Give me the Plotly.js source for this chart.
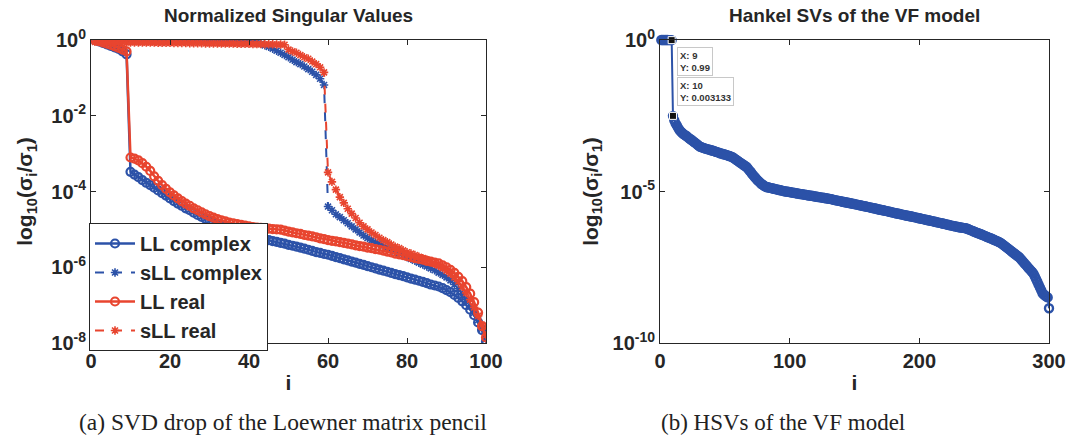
<!DOCTYPE html>
<html><head><meta charset="utf-8">
<script src="https://cdn.plot.ly/plotly-3.0.1.min.js"></script>
<style>html,body{margin:0;padding:0;background:#fff;} #chart{width:1071px;height:441px;}</style>
</head><body><div id="chart"></div>
<script>
// ---- Left panel: normalized singular values (sigma_i / sigma_1), i = 1..100 ----
const llComplex = [
  1, 0.92, 0.84, 0.77, 0.7, 0.64, 0.58, 0.5, 0.42, 3.3e-4,
  2.8e-4, 2.4e-4, 2.0e-4, 1.7e-4, 1.48e-4, 1.26e-4, 1.07e-4, 9.1e-5, 7.8e-5, 6.6e-5,
  5.6e-5, 4.8e-5, 4.2e-5, 3.6e-5, 3.2e-5, 2.75e-5, 2.4e-5, 2.14e-5, 1.9e-5, 1.7e-5,
  1.5e-5, 1.38e-5, 1.26e-5, 1.15e-5, 1.05e-5, 9.5e-6, 8.9e-6, 8.3e-6, 7.8e-6, 7.2e-6,
  6.8e-6, 6.3e-6, 5.9e-6, 5.5e-6, 5.2e-6, 4.9e-6, 4.7e-6, 4.4e-6, 4.2e-6, 3.9e-6,
  3.7e-6, 3.5e-6, 3.3e-6, 3.1e-6, 2.9e-6, 2.7e-6, 2.5e-6, 2.4e-6, 2.24e-6, 2.14e-6,
  2.0e-6, 1.86e-6, 1.74e-6, 1.62e-6, 1.51e-6, 1.41e-6, 1.32e-6, 1.23e-6, 1.15e-6, 1.07e-6,
  1.0e-6, 9.3e-7, 8.7e-7, 8.1e-7, 7.6e-7, 7.1e-7, 6.6e-7, 6.2e-7, 5.8e-7, 5.4e-7,
  5.0e-7, 4.7e-7, 4.4e-7, 4.1e-7, 3.8e-7, 3.5e-7, 3.3e-7, 3.1e-7, 2.8e-7, 2.5e-7,
  2.2e-7, 1.86e-7, 1.55e-7, 1.26e-7, 1.0e-7, 7.6e-8, 5.4e-8, 3.5e-8, 2.2e-8, 1.1e-8
];
const sllComplex = [
  1, 0.999, 0.998, 0.998, 0.997, 0.996, 0.995, 0.995, 0.994, 0.993,
  0.992, 0.991, 0.991, 0.99, 0.989, 0.988, 0.987, 0.987, 0.986, 0.985,
  0.984, 0.983, 0.982, 0.982, 0.981, 0.98, 0.979, 0.978, 0.977, 0.976,
  0.975, 0.974, 0.973, 0.972, 0.971, 0.97, 0.968, 0.966, 0.964, 0.96,
  0.93, 0.87, 0.79, 0.72, 0.66, 0.59, 0.52, 0.46, 0.4, 0.35,
  0.3, 0.26, 0.23, 0.2, 0.17, 0.145, 0.12, 0.095, 0.065, 4.0e-5,
  3.2e-5, 2.5e-5, 2.1e-5, 1.74e-5, 1.45e-5, 1.2e-5, 1.0e-5, 8.3e-6, 6.9e-6, 5.9e-6,
  5.1e-6, 4.6e-6, 4.2e-6, 3.7e-6, 3.3e-6, 2.95e-6, 2.6e-6, 2.35e-6, 2.1e-6, 1.86e-6,
  1.66e-6, 1.48e-6, 1.32e-6, 1.17e-6, 1.05e-6, 9.3e-7, 8.3e-7, 7.2e-7, 6.3e-7, 5.4e-7,
  4.5e-7, 3.5e-7, 2.7e-7, 2.0e-7, 1.4e-7, 9.5e-8, 6.3e-8, 4.0e-8, 2.4e-8, 1.26e-8
];
const llReal = [
  1, 0.93, 0.86, 0.8, 0.74, 0.68, 0.62, 0.56, 0.5, 7.9e-4,
  7.4e-4, 6.6e-4, 5.6e-4, 4.5e-4, 3.5e-4, 2.5e-4, 1.9e-4, 1.48e-4, 1.17e-4, 9.5e-5,
  7.9e-5, 6.6e-5, 5.6e-5, 4.8e-5, 4.2e-5, 3.6e-5, 3.2e-5, 2.8e-5, 2.5e-5, 2.24e-5,
  2.04e-5, 1.86e-5, 1.74e-5, 1.62e-5, 1.51e-5, 1.45e-5, 1.38e-5, 1.32e-5, 1.26e-5, 1.2e-5,
  1.15e-5, 1.12e-5, 1.1e-5, 1.07e-5, 1.05e-5, 1.02e-5, 1.0e-5, 9.8e-6, 9.3e-6, 8.7e-6,
  8.3e-6, 7.9e-6, 7.6e-6, 7.1e-6, 6.8e-6, 6.5e-6, 6.2e-6, 5.8e-6, 5.5e-6, 5.2e-6,
  5.0e-6, 4.8e-6, 4.6e-6, 4.4e-6, 4.2e-6, 4.0e-6, 3.8e-6, 3.6e-6, 3.5e-6, 3.3e-6,
  3.2e-6, 3.0e-6, 2.9e-6, 2.75e-6, 2.6e-6, 2.45e-6, 2.3e-6, 2.2e-6, 2.1e-6, 1.95e-6,
  1.86e-6, 1.74e-6, 1.66e-6, 1.58e-6, 1.48e-6, 1.41e-6, 1.32e-6, 1.26e-6, 1.12e-6, 1.0e-6,
  8.5e-7, 7.1e-7, 5.6e-7, 4.3e-7, 3.0e-7, 2.0e-7, 1.2e-7, 6.3e-8, 2.8e-8, 1.4e-8
];
const sllReal = [
  0.89, 0.89, 0.88, 0.88, 0.88, 0.87, 0.87, 0.87, 0.86, 0.86,
  0.86, 0.86, 0.85, 0.85, 0.85, 0.85, 0.84, 0.84, 0.84, 0.84,
  0.83, 0.83, 0.83, 0.83, 0.82, 0.82, 0.82, 0.82, 0.81, 0.81,
  0.81, 0.81, 0.8, 0.8, 0.8, 0.8, 0.79, 0.79, 0.79, 0.79,
  0.78, 0.78, 0.78, 0.77, 0.77, 0.77, 0.76, 0.76, 0.75, 0.56,
  0.5, 0.46, 0.4, 0.35, 0.32, 0.27, 0.23, 0.19, 0.14, 3.2e-4,
  1.8e-4, 1.12e-4, 7.1e-5, 5.0e-5, 3.5e-5, 2.6e-5, 2.0e-5, 1.5e-5, 1.2e-5, 1.0e-5,
  8.3e-6, 7.1e-6, 6.0e-6, 5.2e-6, 4.6e-6, 4.0e-6, 3.5e-6, 3.2e-6, 2.8e-6, 2.5e-6,
  2.3e-6, 2.1e-6, 1.9e-6, 1.74e-6, 1.58e-6, 1.41e-6, 1.26e-6, 1.1e-6, 9.5e-7, 8.1e-7,
  6.8e-7, 5.4e-7, 4.2e-7, 3.0e-7, 2.1e-7, 1.4e-7, 8.7e-8, 5.2e-8, 3.0e-8, 1.6e-8
];

// ---- Right panel: Hankel singular values of the VF model, i = 1..300 ----
const hsv = [
  1, 0.999, 0.998, 0.997, 0.996, 0.995, 0.993, 0.992, 0.99, 0.003133,
  2.24e-3, 1.78e-3, 1.51e-3, 1.26e-3, 1.07e-3, 9.5e-4, 8.7e-4, 7.9e-4, 7.4e-4, 6.9e-4,
  6.5e-4, 5.9e-4, 5.5e-4, 5.1e-4, 4.8e-4, 4.4e-4, 4.1e-4, 3.8e-4, 3.5e-4, 3.2e-4,
  3.0e-4, 2.9e-4, 2.8e-4, 2.7e-4, 2.6e-4, 2.55e-4, 2.45e-4, 2.4e-4, 2.35e-4, 2.25e-4,
  2.2e-4, 2.15e-4, 2.05e-4, 2.0e-4, 1.95e-4, 1.85e-4, 1.8e-4, 1.78e-4, 1.7e-4, 1.66e-4,
  1.62e-4, 1.55e-4, 1.51e-4, 1.45e-4, 1.41e-4, 1.35e-4, 1.26e-4, 1.17e-4, 1.1e-4, 1.02e-4,
  9.5e-5, 8.9e-5, 8.3e-5, 7.8e-5, 7.2e-5, 6.8e-5, 6.3e-5, 5.6e-5, 4.9e-5, 4.4e-5,
  3.8e-5, 3.4e-5, 3.0e-5, 2.7e-5, 2.4e-5, 2.2e-5, 2.0e-5, 1.8e-5, 1.7e-5, 1.58e-5,
  1.48e-5, 1.41e-5, 1.38e-5, 1.35e-5, 1.32e-5, 1.29e-5, 1.26e-5, 1.23e-5, 1.2e-5, 1.17e-5,
  1.15e-5, 1.12e-5, 1.1e-5, 1.07e-5, 1.05e-5, 1.02e-5, 1.0e-5, 9.9e-6, 9.8e-6, 9.5e-6,
  9.4e-6, 9.2e-6, 9.1e-6, 8.9e-6, 8.8e-6, 8.6e-6, 8.5e-6, 8.3e-6, 8.2e-6, 8.1e-6,
  7.9e-6, 7.8e-6, 7.7e-6, 7.5e-6, 7.4e-6, 7.3e-6, 7.2e-6, 7.1e-6, 6.9e-6, 6.8e-6,
  6.7e-6, 6.6e-6, 6.5e-6, 6.4e-6, 6.3e-6, 6.2e-6, 6.1e-6, 6.0e-6, 5.9e-6, 5.8e-6,
  5.7e-6, 5.6e-6, 5.5e-6, 5.3e-6, 5.2e-6, 5.1e-6, 5.0e-6, 4.9e-6, 4.8e-6, 4.7e-6,
  4.6e-6, 4.5e-6, 4.4e-6, 4.35e-6, 4.25e-6, 4.15e-6, 4.1e-6, 4.0e-6, 3.9e-6, 3.85e-6,
  3.75e-6, 3.7e-6, 3.6e-6, 3.55e-6, 3.45e-6, 3.4e-6, 3.3e-6, 3.25e-6, 3.2e-6, 3.1e-6,
  3.05e-6, 3.0e-6, 2.9e-6, 2.85e-6, 2.8e-6, 2.75e-6, 2.7e-6, 2.6e-6, 2.55e-6, 2.5e-6,
  2.45e-6, 2.4e-6, 2.35e-6, 2.3e-6, 2.25e-6, 2.2e-6, 2.15e-6, 2.1e-6, 2.05e-6, 2.0e-6,
  1.96e-6, 1.92e-6, 1.88e-6, 1.84e-6, 1.8e-6, 1.76e-6, 1.72e-6, 1.69e-6, 1.65e-6, 1.62e-6,
  1.58e-6, 1.55e-6, 1.52e-6, 1.49e-6, 1.46e-6, 1.43e-6, 1.4e-6, 1.37e-6, 1.34e-6, 1.31e-6,
  1.28e-6, 1.25e-6, 1.23e-6, 1.2e-6, 1.17e-6, 1.15e-6, 1.12e-6, 1.1e-6, 1.07e-6, 1.05e-6,
  1.03e-6, 1.0e-6, 9.8e-7, 9.6e-7, 9.4e-7, 9.2e-7, 9.0e-7, 8.8e-7, 8.6e-7, 8.4e-7,
  8.2e-7, 8.0e-7, 7.8e-7, 7.6e-7, 7.5e-7, 7.3e-7, 7.2e-7, 7.0e-7, 6.9e-7, 6.7e-7,
  6.6e-7, 6.5e-7, 6.4e-7, 6.3e-7, 6.2e-7, 6.1e-7, 5.9e-7, 5.65e-7, 5.4e-7, 5.2e-7,
  5.0e-7, 4.8e-7, 4.6e-7, 4.4e-7, 4.25e-7, 4.1e-7, 3.95e-7, 3.8e-7, 3.65e-7, 3.5e-7,
  3.35e-7, 3.2e-7, 3.1e-7, 2.95e-7, 2.85e-7, 2.75e-7, 2.6e-7, 2.5e-7, 2.4e-7, 2.3e-7,
  2.2e-7, 2.1e-7, 1.98e-7, 1.83e-7, 1.7e-7, 1.57e-7, 1.46e-7, 1.35e-7, 1.25e-7, 1.16e-7,
  1.07e-7, 9.9e-8, 9.2e-8, 8.5e-8, 7.9e-8, 7.3e-8, 6.8e-8, 6.1e-8, 5.4e-8, 4.85e-8,
  4.3e-8, 3.85e-8, 3.45e-8, 3.05e-8, 2.75e-8, 2.45e-8, 2.2e-8, 1.95e-8, 1.6e-8, 1.3e-8,
  1.05e-8, 8.4e-9, 6.8e-9, 5.5e-9, 4.4e-9, 4.0e-9, 3.7e-9, 3.4e-9, 3.2e-9, 1.4e-9
];

// Indices (the x value of every point is its position i)
const idxLeft = llComplex.map((_, k) => k + 1);
const idxRight = hsv.map((_, k) => k + 1);
// Data-tip points shown in the right panel (0-based positions in hsv)
const tipIdx = [8, 9];

const leftXTicks = [0, 20, 40, 60, 80, 100];
const leftYTicks = [1e-8, 1e-6, 1e-4, 1e-2, 1];
const leftYTickText = ['10<sup>-8</sup>', '10<sup>-6</sup>', '10<sup>-4</sup>', '10<sup>-2</sup>', '10<sup>0</sup>'];
const rightXTicks = [0, 100, 200, 300];
const rightYTicks = [1e-10, 1e-5, 1];
const rightYTickText = ['10<sup>-10</sup>', '10<sup>-5</sup>', '10<sup>0</sup>'];

const BLUE = '#2c52a8';
const RED = '#e8452f';
const INK = '#262626';
const FONT = 'Liberation Sans, Arial, sans-serif';

const traces = [
  {x: idxLeft, y: llComplex, name: 'LL complex', mode: 'lines+markers', xaxis: 'x', yaxis: 'y',
   line: {color: BLUE, width: 2.5}, marker: {symbol: 'circle-open', size: 8, color: BLUE, line: {width: 2.2, color: BLUE}}},
  {x: idxLeft, y: sllComplex, name: 'sLL complex', mode: 'lines+markers', xaxis: 'x', yaxis: 'y',
   line: {color: BLUE, width: 2, dash: 'dash'}, marker: {symbol: 'asterisk-open', size: 7, color: BLUE, line: {width: 1.6, color: BLUE}}},
  {x: idxLeft, y: llReal, name: 'LL real', mode: 'lines+markers', xaxis: 'x', yaxis: 'y',
   line: {color: RED, width: 2.5}, marker: {symbol: 'circle-open', size: 8, color: RED, line: {width: 2.2, color: RED}}},
  {x: idxLeft, y: sllReal, name: 'sLL real', mode: 'lines+markers', xaxis: 'x', yaxis: 'y',
   line: {color: RED, width: 2, dash: 'dash'}, marker: {symbol: 'asterisk-open', size: 7, color: RED, line: {width: 1.6, color: RED}}},
  {x: idxRight, y: hsv, name: 'HSV', mode: 'lines+markers', xaxis: 'x2', yaxis: 'y2', showlegend: false, cliponaxis: false,
   line: {color: BLUE, width: 2}, marker: {symbol: 'circle-open', size: 8, color: BLUE, line: {width: 2.4, color: BLUE}}},
  {x: tipIdx.map(k => idxRight[k]), y: tipIdx.map(k => hsv[k]), mode: 'markers', xaxis: 'x2', yaxis: 'y2', showlegend: false, cliponaxis: false,
   marker: {symbol: 'square', size: 7, color: '#111', line: {width: 1, color: '#fff'}}}
];

const axisCommon = {
  showline: true, mirror: 'ticks', linecolor: INK, linewidth: 1,
  ticks: 'inside', ticklen: 5, tickcolor: INK, showgrid: false, zeroline: false,
  tickfont: {family: FONT, size: 20, weight: 'bold', color: INK}, automargin: false
};
const titleFont = {family: FONT, size: 21, weight: 'bold', color: INK};
const yTitle = 'log<sub>10</sub>(σ<sub>i</sub>/σ<sub>1</sub>)';

const dom = {
  lx: [91 / 1071, 486 / 1071],
  rx: [660 / 1071, 1049 / 1071],
  y: [(441 - 343) / 441, (441 - 40) / 441]
};

const layout = {
  width: 1071, height: 441,
  margin: {l: 0, r: 0, t: 0, b: 0},
  paper_bgcolor: '#fff', plot_bgcolor: '#fff',
  font: {family: FONT, color: INK},
  xaxis: Object.assign({}, axisCommon, {domain: dom.lx, anchor: 'y', range: [0, 100], tickvals: leftXTicks,
    title: {text: 'i', font: titleFont, standoff: 4}}),
  yaxis: Object.assign({}, axisCommon, {domain: dom.y, anchor: 'x', type: 'log', range: [-8, 0],
    tickvals: leftYTicks, ticktext: leftYTickText, title: {text: yTitle, font: titleFont, standoff: 12}}),
  xaxis2: Object.assign({}, axisCommon, {domain: dom.rx, anchor: 'y2', range: [0, 300], tickvals: rightXTicks,
    title: {text: 'i', font: titleFont, standoff: 4}}),
  yaxis2: Object.assign({}, axisCommon, {domain: dom.y, anchor: 'x2', type: 'log', range: [-10, 0],
    tickvals: rightYTicks, ticktext: rightYTickText, title: {text: yTitle, font: titleFont, standoff: 8}}),
  legend: {
    x: 89 / 1071, xanchor: 'left', y: (441 - 223) / 441, yanchor: 'top',
    bgcolor: '#fff', bordercolor: INK, borderwidth: 1,
    font: {family: FONT, size: 20, weight: 'bold', color: INK},
    tracegroupgap: 0, itemwidth: 40
  },
  showlegend: true,
  annotations: [
    {xref: 'paper', yref: 'paper', x: (dom.lx[0] + dom.lx[1]) / 2, y: (441 - 16) / 441, showarrow: false,
     xanchor: 'center', yanchor: 'middle',
     text: 'Normalized Singular Values', font: {family: FONT, size: 19, weight: 'bold', color: INK}},
    {xref: 'paper', yref: 'paper', x: (dom.rx[0] + dom.rx[1]) / 2, y: (441 - 16) / 441, showarrow: false,
     xanchor: 'center', yanchor: 'middle',
     text: 'Hankel SVs of the VF model', font: {family: FONT, size: 19, weight: 'bold', color: INK}},
    {xref: 'paper', yref: 'paper', x: 283 / 1071, y: (441 - 422) / 441, showarrow: false,
     xanchor: 'center', yanchor: 'middle',
     text: '(a) SVD drop of the Loewner matrix pencil', font: {family: 'Liberation Serif, serif', size: 23.5, color: '#222'}},
    {xref: 'paper', yref: 'paper', x: 783 / 1071, y: (441 - 422) / 441, showarrow: false,
     xanchor: 'center', yanchor: 'middle',
     text: '(b) HSVs of the VF model', font: {family: 'Liberation Serif, serif', size: 23, color: '#222'}},
    {xref: 'x2', yref: 'y2', x: idxRight[tipIdx[0]], y: Math.log10(hsv[tipIdx[0]]), showarrow: false,
     xanchor: 'left', yanchor: 'top', xshift: 5, yshift: -7, align: 'left',
     text: 'X: ' + idxRight[tipIdx[0]] + '<br>Y: ' + hsv[tipIdx[0]],
     bgcolor: '#fff', bordercolor: '#c8c8c8', borderwidth: 1, borderpad: 2,
     font: {family: FONT, size: 9.5, weight: 'bold', color: '#333'}},
    {xref: 'x2', yref: 'y2', x: idxRight[tipIdx[1]], y: Math.log10(hsv[tipIdx[1]]), showarrow: false,
     xanchor: 'left', yanchor: 'bottom', xshift: 4, yshift: 10, align: 'left',
     text: 'X: ' + idxRight[tipIdx[1]] + '<br>Y: ' + hsv[tipIdx[1]],
     bgcolor: '#fff', bordercolor: '#c8c8c8', borderwidth: 1, borderpad: 2,
     font: {family: FONT, size: 9.5, weight: 'bold', color: '#333'}}
  ]
};

Plotly.newPlot('chart', traces, layout, {staticPlot: true, displayModeBar: false});
</script></body></html>
